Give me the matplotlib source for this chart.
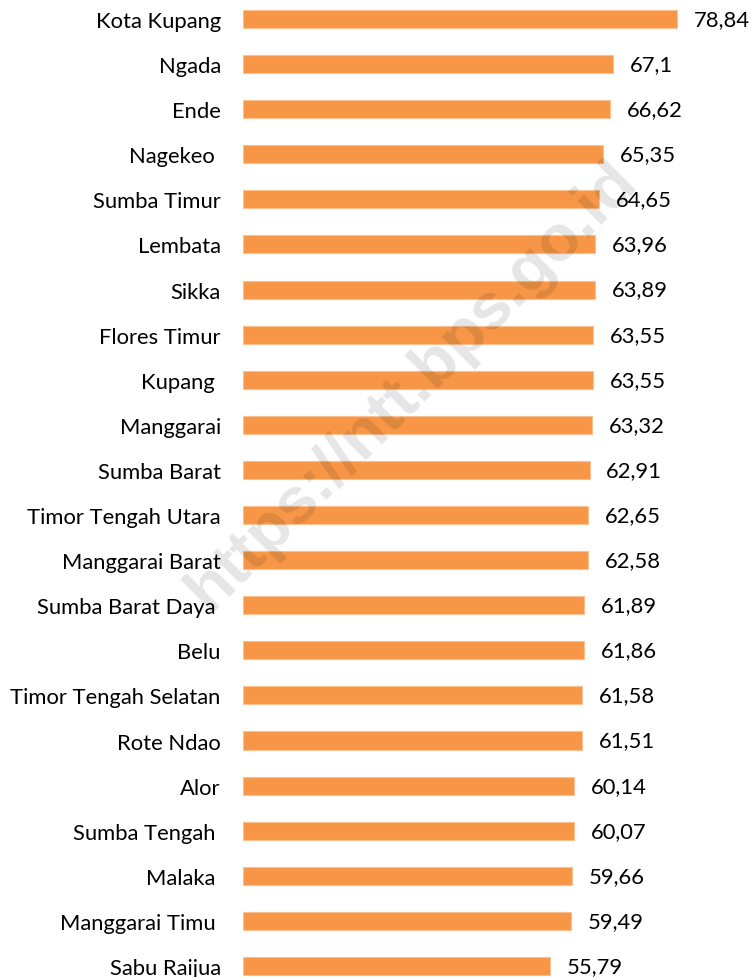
import matplotlib
matplotlib.use("Agg")
import matplotlib.pyplot as plt

categories = ["Kota Kupang", "Ngada", "Ende", "Nagekeo ", "Sumba Timur", "Lembata", "Sikka",
              "Flores Timur", "Kupang ", "Manggarai", "Sumba Barat", "Timor Tengah Utara",
              "Manggarai Barat", "Sumba Barat Daya ", "Belu", "Timor Tengah Selatan", "Rote Ndao",
              "Alor", "Sumba Tengah ", "Malaka ", "Manggarai Timu ", "Sabu Raijua"]
values = [78.84, 67.1, 66.62, 65.35, 64.65, 63.96, 63.89, 63.55, 63.55, 63.32, 62.91, 62.65,
          62.58, 61.89, 61.86, 61.58, 61.51, 60.14, 60.07, 59.66, 59.49, 55.79]
value_labels = ["78,84", "67,1", "66,62", "65,35", "64,65", "63,96", "63,89", "63,55", "63,55",
                "63,32", "62,91", "62,65", "62,58", "61,89", "61,86", "61,58", "61,51", "60,14",
                "60,07", "59,66", "59,49", "55,79"]

W, H = 751, 978
fig = plt.figure(figsize=(W / 100, H / 100), dpi=100)
ax_left, ax_right = 243 / W, 739 / W
ax = fig.add_axes([ax_left, 0, ax_right - ax_left, 1])

font = "Lato"
fs = 15.8
y = list(range(len(categories)))
ax.barh(y, values, height=0.4, color="#F79646", edgecolor="#FAC08F", linewidth=0.8)
ax.set_xlim(0, 90)
ax.set_ylim(21.244, -0.443)
ax.set_yticks(y)
ax.set_yticklabels(categories, fontsize=fs, fontfamily=font, color="#000000")
ax.tick_params(axis="y", length=0, pad=16)
ax.set_xticks([])
for s in ax.spines.values():
    s.set_visible(False)

for yi, v, lab in zip(y, values, value_labels):
    ax.annotate(lab, (v, yi), xytext=(12, 0), textcoords="offset points",
                ha="left", va="center", fontsize=fs, fontfamily=font, color="#000000")

fig.text(412 / W, 1 - 386 / H, "https://ntt.bps.go.id", rotation=45, ha="center", va="center",
         rotation_mode="anchor",
         fontsize=47, fontweight="bold", fontfamily="Liberation Sans", color="#000000", alpha=0.1)

fig.savefig("out.png", dpi=100)
